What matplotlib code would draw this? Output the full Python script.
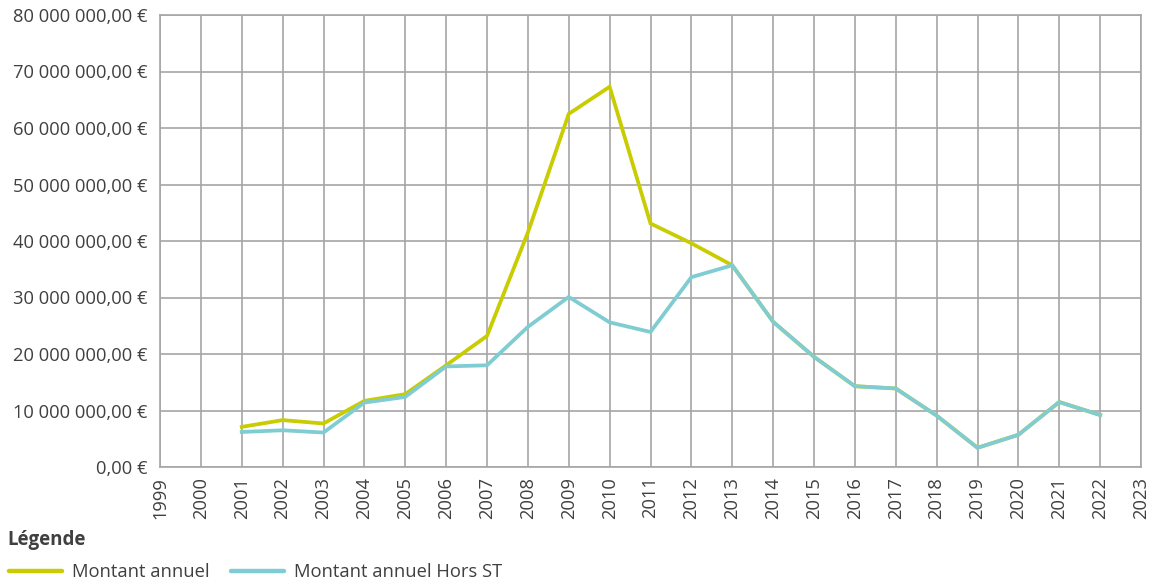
import matplotlib.pyplot as plt
import numpy as np

plt.rcParams['font.family'] = ['Open Sans', 'DejaVu Sans']

# Years shown on the axis (1999-2023), amounts in millions of euros
years = list(range(1999, 2024))
data_years = list(range(2001, 2023))
montant_annuel = [7.1, 8.3, 7.7, 11.7, 12.9, 18.0, 23.2, 41.5, 62.5, 67.3, 43.1, 39.6,
                  35.7, 25.7, 19.5, 14.3, 13.9, 9.1, 3.4, 5.7, 11.5, 9.2]
montant_hors_st = [6.2, 6.5, 6.1, 11.4, 12.4, 17.8, 18.0, 24.8, 30.1, 25.6, 23.9, 33.6,
                   35.7, 25.7, 19.5, 14.3, 13.9, 9.1, 3.4, 5.7, 11.5, 9.2]
y_ticks = [0, 10, 20, 30, 40, 50, 60, 70, 80]

text_col = '#404040'
grid_col = '#a6a6a6'
fs = 13.2

fig = plt.figure(figsize=(11.53, 5.85), dpi=100)
ax = fig.add_axes([160 / 1153, 1 - 467 / 585, (1141 - 160) / 1153, (467 - 15) / 585])

x_pos = [years.index(y) for y in data_years]
ax.plot(x_pos, montant_annuel, color='#c8cc00', lw=2.7, label='Montant annuel',
        solid_joinstyle='miter', zorder=3)
ax.plot(x_pos, montant_hors_st, color='#7fccd3', lw=2.7, label='Montant annuel Hors ST',
        solid_joinstyle='miter', zorder=4)

ax.set_xlim(0, len(years) - 1)
ax.set_ylim(0, 80)
ax.set_xticks(range(len(years)))
ax.set_xticklabels([str(y) for y in years], rotation=90, color=text_col, fontsize=fs)
ax.set_yticks(y_ticks)
ax.set_yticklabels([f"{v} 000 000,00 €" if v else "0,00 €" for v in y_ticks],
                   color=text_col, fontsize=fs)
ax.tick_params(axis='y', length=0, pad=9)
ax.tick_params(axis='x', length=0, pad=7)
ax.grid(True, color=grid_col, lw=1.2)
ax.set_axisbelow(True)
for s in ax.spines.values():
    s.set_color(grid_col)
    s.set_linewidth(1.2)

fig.text(7 / 1153, 1 - 540 / 585, 'Légende', fontsize=13.5, fontweight='bold',
         color=text_col, va='center')
leg = fig.legend(loc='center left', bbox_to_anchor=(9 / 1153, 1 - 572 / 585), ncol=2,
                 frameon=False, fontsize=fs, handlelength=2.9, handletextpad=0.55,
                 columnspacing=1.15, borderaxespad=0, borderpad=0, labelcolor=text_col)
for h in leg.get_lines():
    h.set_linewidth(3.2)
    h.set_solid_capstyle('round')

fig.savefig('out.png', dpi=100)
